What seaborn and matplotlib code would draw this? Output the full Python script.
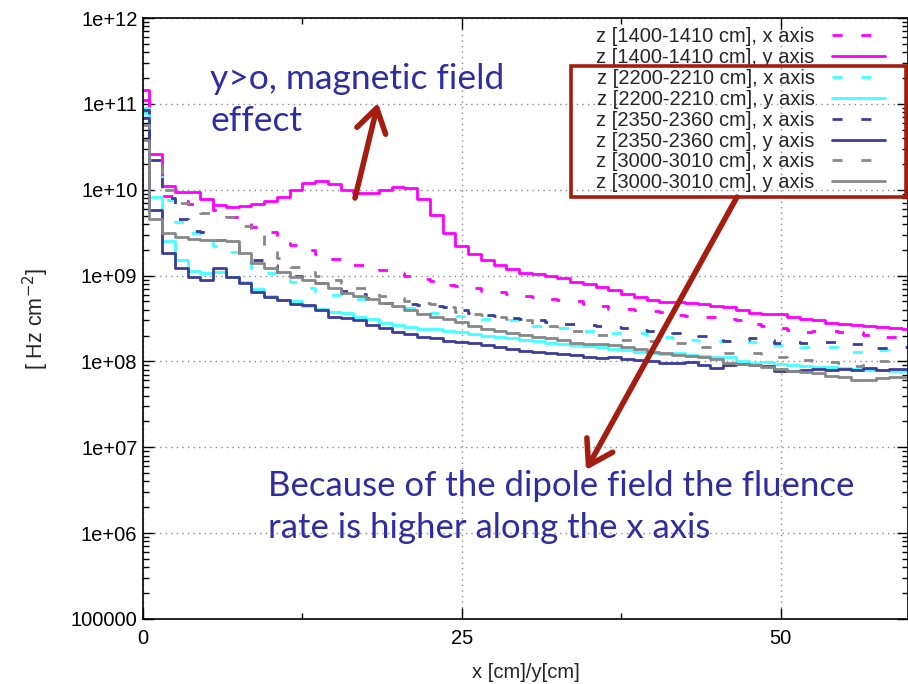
import numpy as np
import pandas as pd
import matplotlib
matplotlib.use("Agg")
import matplotlib.pyplot as plt
import seaborn as sns
from matplotlib.patches import Rectangle
from matplotlib.ticker import FixedLocator, LogLocator, NullFormatter

sns.set_theme(style="ticks")
plt.rcParams["font.family"] = ["Liberation Sans", "DejaVu Sans"]

# bin centres along the transverse coordinate [cm]
position_cm = list(range(61))

# fluence rate [Hz cm^-2] per 1 cm bin
z1400_x = [1.1e11, 2.2e10, 8.4e9, 7.4e9, 6.9e9, 6.9e9, 5.8e9, 4.8e9, 4.4e9, 3.7e9,
           3.2e9, 2.7e9, 2.3e9, 2.0e9, 1.78e9, 1.55e9, 1.45e9, 1.33e9, 1.22e9, 1.16e9,
           1.06e9, 9.8e8, 9.2e8, 8.7e8, 7.8e8, 7.6e8, 7.1e8, 6.7e8, 6.4e8, 6.1e8,
           5.8e8, 5.6e8, 5.4e8, 5.2e8, 5.0e8, 4.7e8, 4.4e8, 4.05e8, 4.05e8, 4.0e8,
           3.9e8, 3.8e8, 3.5e8, 3.4e8, 3.3e8, 3.3e8, 3.1e8, 3.0e8, 2.7e8, 2.6e8,
           2.43e8, 2.3e8, 2.2e8, 2.25e8, 2.28e8, 2.2e8, 2.2e8, 2.03e8, 1.95e8, 1.9e8, 1.9e8]
z1400_y = [1.45e11, 2.6e10, 1.1e10, 9.3e9, 9.3e9, 7.9e9, 6.6e9, 6.3e9, 6.4e9, 6.8e9,
           7.4e9, 8.3e9, 9.9e9, 1.19e10, 1.27e10, 1.17e10, 9.9e9, 9.1e9, 9.2e9, 1.0e10,
           1.08e10, 1.04e10, 7.7e9, 5.1e9, 3.16e9, 2.2e9, 1.78e9, 1.52e9, 1.33e9, 1.18e9,
           1.08e9, 1.04e9, 9.9e8, 9.3e8, 8.5e8, 8.0e8, 7.4e8, 6.8e8, 6.1e8, 5.6e8,
           5.2e8, 4.9e8, 4.9e8, 4.8e8, 4.7e8, 4.4e8, 4.3e8, 4.0e8, 3.7e8, 3.6e8,
           3.57e8, 3.3e8, 3.1e8, 3.0e8, 2.83e8, 2.73e8, 2.66e8, 2.59e8, 2.5e8, 2.43e8, 2.4e8]
z2200_x = [9.0e10, 2.2e10, 7.6e9, 4.2e9, 3.1e9, 2.6e9, 2.2e9, 1.88e9, 1.44e9, 1.21e9,
           1.07e9, 9.6e8, 8.4e8, 7.1e8, 6.4e8, 5.9e8, 5.7e8, 5.4e8, 5.1e8, 4.8e8,
           4.5e8, 4.2e8, 3.9e8, 3.65e8, 3.4e8, 3.4e8, 3.2e8, 3.1e8, 3.05e8, 3.0e8,
           2.8e8, 2.6e8, 2.5e8, 2.45e8, 2.3e8, 2.25e8, 2.16e8, 2.16e8, 2.16e8, 2.14e8,
           1.95e8, 1.9e8, 1.86e8, 1.78e8, 1.75e8, 1.75e8, 1.75e8, 1.73e8, 1.69e8, 1.6e8,
           1.55e8, 1.5e8, 1.46e8, 1.48e8, 1.48e8, 1.44e8, 1.3e8, 1.36e8, 1.36e8, 1.33e8, 1.33e8]
z2200_y = [7.8e10, 8.3e9, 2.5e9, 1.5e9, 1.13e9, 1.08e9, 1.1e9, 9.7e8, 8.5e8, 6.9e8,
           5.8e8, 5.2e8, 5.0e8, 4.4e8, 4.1e8, 3.8e8, 3.7e8, 3.3e8, 3.1e8, 2.8e8,
           2.66e8, 2.5e8, 2.4e8, 2.37e8, 2.28e8, 2.2e8, 2.1e8, 2.0e8, 1.95e8, 1.86e8,
           1.78e8, 1.75e8, 1.65e8, 1.6e8, 1.55e8, 1.5e8, 1.46e8, 1.38e8, 1.36e8, 1.3e8,
           1.24e8, 1.22e8, 1.26e8, 1.19e8, 1.16e8, 1.12e8, 1.12e8, 1.02e8, 9.7e7, 9.9e7,
           9.3e7, 9.1e7, 8.8e7, 8.7e7, 8.5e7, 8.3e7, 8.1e7, 7.9e7, 7.9e7, 7.8e7, 7.7e7]
z2350_x = [8.5e10, 2.2e10, 8.0e9, 4.6e9, 3.3e9, 3.25e9, 2.6e9, 2.2e9, 1.83e9, 1.52e9,
           1.33e9, 1.11e9, 9.9e8, 8.9e8, 8.1e8, 7.4e8, 6.7e8, 6.1e8, 5.5e8, 4.8e8,
           4.75e8, 4.7e8, 4.5e8, 4.4e8, 4.3e8, 4.0e8, 3.7e8, 3.5e8, 3.4e8, 3.2e8,
           3.1e8, 3.0e8, 2.9e8, 2.7e8, 2.7e8, 2.66e8, 2.6e8, 2.55e8, 2.45e8, 2.3e8,
           2.25e8, 2.2e8, 2.14e8, 2.1e8, 2.0e8, 1.95e8, 1.75e8, 1.8e8, 1.86e8, 1.78e8,
           1.65e8, 1.69e8, 1.65e8, 1.69e8, 1.7e8, 1.64e8, 1.6e8, 1.47e8, 1.42e8, 1.46e8, 1.46e8]
z2350_y = [6.9e10, 5.8e9, 1.83e9, 1.22e9, 9.6e8, 9.0e8, 1.21e9, 9.7e8, 8.1e8, 6.5e8,
           5.7e8, 5.2e8, 4.7e8, 4.5e8, 4.0e8, 3.3e8, 3.2e8, 3.0e8, 2.66e8, 2.43e8,
           2.2e8, 2.1e8, 1.95e8, 1.86e8, 1.75e8, 1.7e8, 1.63e8, 1.55e8, 1.48e8, 1.38e8,
           1.33e8, 1.3e8, 1.24e8, 1.22e8, 1.19e8, 1.14e8, 1.09e8, 1.14e8, 1.06e8, 1.04e8,
           1.02e8, 9.5e7, 9.5e7, 9.9e7, 9.1e7, 8.3e7, 9.1e7, 9.3e7, 9.1e7, 8.9e7,
           7.8e7, 7.8e7, 7.9e7, 8.1e7, 7.9e7, 8.1e7, 7.9e7, 8.3e7, 7.9e7, 8.1e7, 8.1e7]
z3000_x = [5.7e10, 2.1e10, 9.9e9, 7.0e9, 6.1e9, 5.4e9, 5.1e9, 4.8e9, 3.8e9, 3.1e9,
           2.0e9, 1.6e9, 1.26e9, 1.1e9, 9.9e8, 8.9e8, 8.1e8, 7.2e8, 6.5e8, 5.8e8,
           5.5e8, 5.1e8, 4.8e8, 4.7e8, 4.3e8, 3.8e8, 3.6e8, 3.45e8, 3.3e8, 3.1e8,
           3.0e8, 2.7e8, 2.6e8, 2.37e8, 2.25e8, 2.1e8, 2.03e8, 1.9e8, 1.8e8, 1.78e8,
           1.72e8, 1.65e8, 1.64e8, 1.55e8, 1.47e8, 1.36e8, 1.24e8, 1.25e8, 1.26e8, 1.19e8,
           1.13e8, 1.09e8, 1.04e8, 1.01e8, 9.9e7, 9.6e7, 8.8e7, 9.8e7, 1.0e8, 1.04e8, 1.04e8]
z3000_y = [3.8e10, 4.6e9, 3.1e9, 2.8e9, 2.7e9, 2.6e9, 2.6e9, 2.55e9, 1.83e9, 1.4e9,
           1.21e9, 1.1e9, 9.6e8, 9.0e8, 8.1e8, 7.1e8, 6.2e8, 5.8e8, 5.3e8, 4.8e8,
           4.4e8, 4.0e8, 3.6e8, 3.3e8, 3.1e8, 2.9e8, 2.6e8, 2.37e8, 2.28e8, 2.16e8,
           2.03e8, 1.95e8, 1.86e8, 1.78e8, 1.65e8, 1.6e8, 1.6e8, 1.55e8, 1.46e8, 1.38e8,
           1.3e8, 1.26e8, 1.19e8, 1.16e8, 1.12e8, 1.06e8, 9.5e7, 9.3e7, 9.1e7, 8.5e7,
           8.1e7, 7.8e7, 7.6e7, 7.3e7, 6.8e7, 6.5e7, 6.1e7, 6.1e7, 6.4e7, 6.5e7, 6.5e7]

series_labels = ["z [1400-1410 cm], x axis", "z [1400-1410 cm], y axis",
                 "z [2200-2210 cm], x axis", "z [2200-2210 cm], y axis",
                 "z [2350-2360 cm], x axis", "z [2350-2360 cm], y axis",
                 "z [3000-3010 cm], x axis", "z [3000-3010 cm], y axis"]
series_values = [z1400_x, z1400_y, z2200_x, z2200_y, z2350_x, z2350_y, z3000_x, z3000_y]
series_colors = ["#ff00ff", "#ff00ff", "#44ffff", "#44ffff",
                 "#3d3d99", "#3d3d99", "#888888", "#888888"]
series_dashed = [True, False, True, False, True, False, True, False]

y_ticks = [1e5, 1e6, 1e7, 1e8, 1e9, 1e10, 1e11, 1e12]
y_ticklabels = ["100000", "1e+06", "1e+07", "1e+08", "1e+09", "1e+10", "1e+11", "1e+12"]
x_ticks = [0, 25, 50]

W, H = 908, 684
fig = plt.figure(figsize=(W / 100, H / 100), dpi=100)
ax = fig.add_axes([143 / W, 65 / H, 765 / W, 601 / H])
ax.set_yscale("log")

handles = []
for label, vals, color, dashed in zip(series_labels, series_values, series_colors, series_dashed):
    df = pd.DataFrame({"pos": position_cm, "rate": vals})
    ls = (0, (3.6, 6.8)) if dashed else "-"
    sns.lineplot(data=df, x="pos", y="rate", ax=ax, color=color, linewidth=2.0,
                 linestyle=ls, drawstyle="steps-mid", errorbar=None, legend=False)
    line = ax.lines[-1]
    line.set_label(label)
    handles.append(line)

ax.set_xlim(0, 60)
ax.set_ylim(1e5, 1e12)
ax.set_xticks(x_ticks)
ax.set_xticklabels([str(t) for t in x_ticks])
ax.xaxis.set_minor_locator(FixedLocator([12.5, 37.5]))
ax.set_yticks(y_ticks)
ax.set_yticklabels(y_ticklabels)
ax.yaxis.set_minor_locator(LogLocator(base=10, subs=np.arange(2, 10)))
ax.yaxis.set_minor_formatter(NullFormatter())
ax.tick_params(which="both", direction="in", top=True, right=True, colors="black",
               labelsize=14.5)
ax.tick_params(which="major", length=8, width=1.0)
ax.tick_params(which="minor", length=4, width=1.0)
ax.tick_params(axis="x", pad=7)
ax.tick_params(axis="y", pad=4)
ax.grid(True, which="major", linestyle=(0, (1, 3)), color="#8a8a8a", linewidth=1.0)
ax.set_axisbelow(True)
for sp in ax.spines.values():
    sp.set_color("black")
    sp.set_linewidth(1.2)

ax.set_xlabel("x [cm]/y[cm]", fontsize=14.5, labelpad=11)
ax.set_ylabel("[ Hz cm$^{-2}$]", fontsize=15.5, labelpad=14)

leg = ax.legend(handles=handles, labels=series_labels, loc="upper right",
                bbox_to_anchor=(885 / W, 1 - 27 / H), bbox_transform=fig.transFigure,
                frameon=False, markerfirst=False, fontsize=14.5, handlelength=2.65,
                handletextpad=0.85, labelspacing=0.095, borderpad=0, borderaxespad=0)

red = "#a31d10"
fig.patches.append(Rectangle((571 / W, 1 - 197 / H), (906 - 571) / W, (197 - 66) / H,
                             transform=fig.transFigure, fill=False, edgecolor=red,
                             linewidth=2.6, zorder=5))

arrow_kw = dict(arrowstyle="->,head_length=0.6,head_width=0.38", lw=4.0, color=red,
                mutation_scale=28, shrinkA=0, shrinkB=0)
ax.annotate("", xy=(378 / W, 1 - 103 / H), xycoords="figure fraction",
            xytext=(355 / W, 1 - 198 / H), textcoords="figure fraction",
            arrowprops=arrow_kw, annotation_clip=False)
ax.annotate("", xy=(586 / W, 1 - 470 / H), xycoords="figure fraction",
            xytext=(737 / W, 1 - 197 / H), textcoords="figure fraction",
            arrowprops=arrow_kw, annotation_clip=False)

blue = "#2f2d9f"
fig.text(210 / W, 1 - 63 / H, "y>o, magnetic field\neffect", ha="left", va="top",
         fontsize=25.5, color=blue, family=["Lato", "DejaVu Sans"], linespacing=1.38)
fig.text(268 / W, 1 - 470 / H, "Because of the dipole field the fluence\nrate is higher along the x axis",
         ha="left", va="top", fontsize=25, color=blue, family=["Lato", "DejaVu Sans"],
         linespacing=1.40)

fig.savefig("out.png", dpi=100)
